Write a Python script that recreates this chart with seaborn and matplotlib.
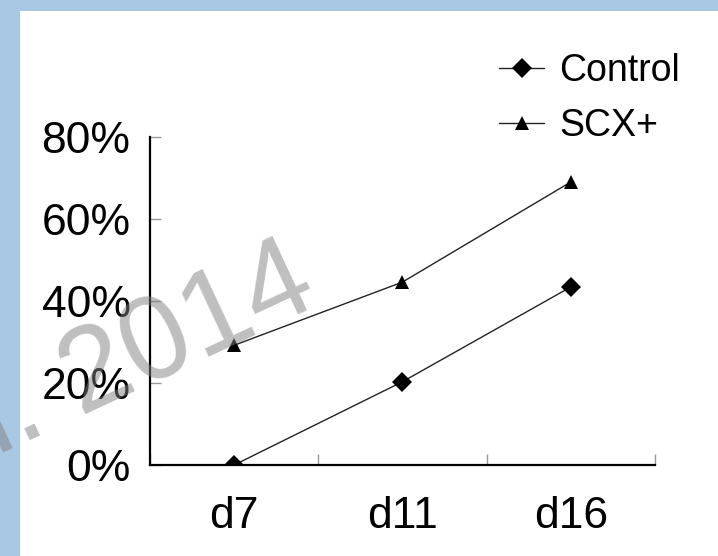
import seaborn as sns
import matplotlib.pyplot as plt
import pandas as pd
from matplotlib.patches import Rectangle
from matplotlib.ticker import FixedLocator, FuncFormatter

# values (percent)
days = ['d7', 'd11', 'd16']
control = [0, 20.3, 43.4]
scx = [29.2, 44.6, 69.0]
y_ticks = [0, 20, 40, 60, 80]

sns.set_style('white')
plt.rcParams['font.family'] = ['Liberation Sans', 'DejaVu Sans']
plt.rcParams['text.color'] = 'black'

fig = plt.figure(figsize=(7.18, 5.56), dpi=100, facecolor='#a9c8e4')
# white page on the blue backdrop
fig.patches.append(Rectangle((20 / 718, 0), 1, 1 - 11 / 556, transform=fig.transFigure,
                             facecolor='white', edgecolor='none', zorder=-10))

ax = fig.add_axes([0.209, 0.1637, 0.703, 0.590])
ax.set_facecolor('none')

df = pd.DataFrame({
    'day': days * 2,
    'value': control + scx,
    'group': ['Control'] * 3 + ['SCX+'] * 3,
})

sns.lineplot(data=df, x='day', y='value', hue='group', style='group',
             markers={'Control': 'D', 'SCX+': '^'}, dashes=False,
             palette={'Control': 'black', 'SCX+': 'black'},
             linewidth=1.0, markersize=10, markeredgewidth=0, ax=ax)
for ln in ax.lines:
    ln.set_color('#222222')
    ln.set_markerfacecolor('black')

ax.set_xlim(-0.5, 2.5)
ax.set_ylim(0, 80)
ax.set_xlabel('')
ax.set_ylabel('')

# y ticks inward, percent labels
ax.yaxis.set_major_locator(FixedLocator(y_ticks))
ax.yaxis.set_major_formatter(FuncFormatter(lambda v, p: f'{v:.0f}%'))
ax.tick_params(axis='y', direction='in', length=8, width=1, color='#999999',
               labelsize=32, pad=14, left=True, labelcolor='black')
# x: category labels without marks, boundary ticks inward
ax.set_xticks([0, 1, 2])
ax.set_xticklabels(days)
ax.tick_params(axis='x', which='major', length=0, labelsize=32, pad=22,
               labelcolor='black')
ax.set_xticks([-0.5, 0.5, 1.5, 2.5], minor=True)
ax.tick_params(axis='x', which='minor', direction='in', length=8, width=1,
               color='#999999', bottom=True)

for s in ['top', 'right']:
    ax.spines[s].set_visible(False)
for s in ['left', 'bottom']:
    ax.spines[s].set_color('black')
    ax.spines[s].set_linewidth(1.6)

handles, labels = ax.get_legend_handles_labels()
ax.legend(handles, labels, loc='upper left', bbox_to_anchor=(0.695, 0.905),
          bbox_transform=fig.transFigure, frameon=False, fontsize=27,
          handlelength=1.2, handletextpad=0.4, labelspacing=0.52,
          borderpad=0, borderaxespad=0)

# watermark
fig.text(0.447, 0.453, 'et al. 2014', fontsize=86, color='#808080', alpha=0.5,
         rotation=25, rotation_mode='anchor', ha='right', va='baseline', zorder=10)

fig.savefig('out.png', dpi=100, facecolor=fig.get_facecolor())
